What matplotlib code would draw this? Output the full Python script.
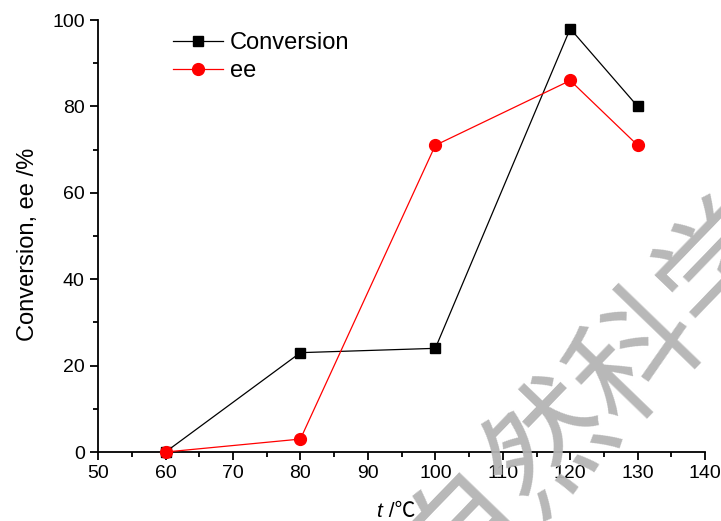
import matplotlib.pyplot as plt
from matplotlib.ticker import MultipleLocator

plt.rcParams['font.family'] = ['Liberation Sans', 'DejaVu Sans']

# Data
temps = [60, 80, 100, 120, 130]
conversion = [0, 23, 24, 98, 80]
ee = [0, 3, 71, 86, 71]

fig = plt.figure(figsize=(7.21, 5.21), dpi=100)
ax = fig.add_axes([0.136, 0.1324, 0.842, 0.8292])

ax.plot(temps, conversion, color='black', lw=0.9, marker='s', ms=6.5,
        label='Conversion', clip_on=False, zorder=3)
ax.plot(temps, ee, color='red', lw=0.9, marker='o', ms=8.5,
        label='ee', clip_on=False, zorder=3)

ax.set_xlim(50, 140)
ax.set_ylim(0, 100)
ax.xaxis.set_major_locator(MultipleLocator(10))
ax.xaxis.set_minor_locator(MultipleLocator(5))
ax.yaxis.set_major_locator(MultipleLocator(20))
ax.yaxis.set_minor_locator(MultipleLocator(10))

for s in ['top', 'right']:
    ax.spines[s].set_visible(False)
for s in ['left', 'bottom']:
    ax.spines[s].set_linewidth(1.3)
ax.tick_params(which='major', direction='out', length=6, width=1.3, labelsize=14)
ax.tick_params(which='minor', direction='out', length=3.5, width=1.3)

# x label: italic t plus degree sign
fig.text(0.530, 0.008, 't', fontsize=15, style='italic', ha='right', va='baseline')
fig.text(0.531, 0.008, ' /℃', fontsize=15, ha='left', va='baseline',
         family=['Liberation Sans', 'Noto Sans CJK SC', 'DejaVu Sans'])
ax.set_ylabel('Conversion, ee /%', fontsize=17)
ax.yaxis.set_label_coords(-0.097, 0.48)

ax.legend(loc='upper left', bbox_to_anchor=(0.1, 1.005), frameon=False,
          fontsize=17, handlelength=2.1, handletextpad=0.3, labelspacing=0.25,
          borderaxespad=0.2)

# watermark
fig.text(0.82, 0.25, '自然科学', family=['Noto Sans CJK SC'], fontsize=90,
         color='#b4b4b4', rotation=46, ha='center', va='center', alpha=0.95,
         zorder=10)

fig.savefig('out.png', dpi=100)
